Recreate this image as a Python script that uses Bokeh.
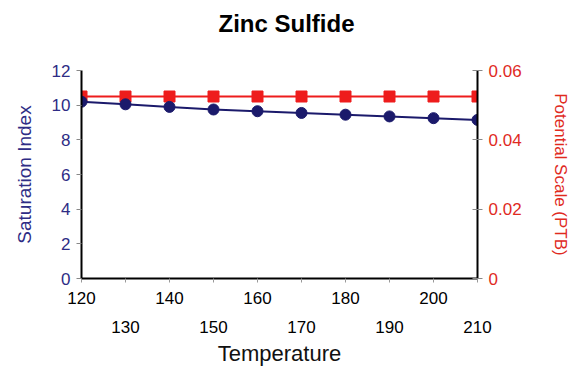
from bokeh.plotting import figure
from bokeh.models import Range1d, LinearAxis, FixedTicker, Title
from bokeh.embed import file_html
from bokeh.resources import INLINE

temperature = [120, 130, 140, 150, 160, 170, 180, 190, 200, 210]
saturation_index = [10.2, 10.05, 9.9, 9.75, 9.65, 9.55, 9.45, 9.35, 9.25, 9.15]
potential_scale = [0.0525] * 10
left_ticks = [0, 2, 4, 6, 8, 10, 12]
right_ticks = [0, 0.02, 0.04, 0.06]
right_labels = ["0", "0.02", "0.04", "0.06"]
upper_ticks = [120, 140, 160, 180, 200]
lower_ticks = [130, 150, 170, 190, 210]
title_text = "Zinc Sulfide"

FONT = "Liberation Sans"
NAVY = "#1b1a6b"
NAVY_TXT = "#2e2c85"
RED = "#ee1c1c"
RED_TXT = "#e02a1e"

p = figure(width=572, height=368, output_backend="svg", toolbar_location=None,
           x_range=Range1d(120, 210), y_range=Range1d(0, 12),
           min_border_left=81, min_border_right=93, min_border_top=70, min_border_bottom=90,
           x_axis_location=None, y_axis_location=None)
p.extra_y_ranges = {"ptb": Range1d(0, 0.06)}
p.grid.visible = False
p.outline_line_color = None
p.background_fill_color = "white"
p.border_fill_color = "white"

spacer = Title(text=" ", text_font=FONT, text_font_size="24px", standoff=0)
p.add_layout(spacer, "above")
t = Title(text=title_text, align="left", text_font=FONT, text_font_size="24px",
          text_font_style="bold", text_color="black", offset=137, standoff=10)
p.add_layout(t, "above")

# left axis
la = LinearAxis(ticker=FixedTicker(ticks=left_ticks), axis_label="Saturation Index")
la.axis_line_color = "black"
la.axis_line_width = 2
la.major_tick_in = 0
la.major_tick_out = 5
la.major_tick_line_color = "#888888"
la.minor_tick_line_color = None
la.major_label_standoff = 6
la.major_label_text_font = FONT
la.major_label_text_font_size = "17px"
la.major_label_text_color = NAVY_TXT
la.axis_label_text_font = FONT
la.axis_label_text_font_size = "19px"
la.axis_label_text_font_style = "normal"
la.axis_label_text_color = NAVY_TXT
la.axis_label_standoff = 14
p.add_layout(la, "left")

# right axis
ra = LinearAxis(y_range_name="ptb", ticker=FixedTicker(ticks=right_ticks),
                axis_label="Potential Scale (PTB)")
ra.major_label_overrides = {k: v for k, v in zip(right_ticks, right_labels)}
ra.axis_line_color = "black"
ra.axis_line_width = 2
ra.major_tick_in = 5
ra.major_tick_out = 5
ra.major_tick_line_color = "#888888"
ra.minor_tick_line_color = None
ra.major_label_standoff = 6
ra.major_label_text_font = FONT
ra.major_label_text_font_size = "17px"
ra.major_label_text_color = RED_TXT
ra.axis_label_text_font = FONT
ra.axis_label_text_font_size = "17px"
ra.axis_label_text_font_style = "normal"
ra.axis_label_text_color = RED_TXT
ra.axis_label_standoff = 26
p.add_layout(ra, "right")

# bottom axes (staggered labels)
ba1 = LinearAxis(ticker=FixedTicker(ticks=temperature))
ba1.major_label_overrides = {k: "" for k in lower_ticks}
ba1.axis_line_color = "black"
ba1.axis_line_width = 2
ba1.major_tick_in = 0
ba1.major_tick_out = 4
ba1.major_tick_line_color = "#999999"
ba1.minor_tick_line_color = None
ba1.major_label_standoff = 9
ba1.major_label_text_font = FONT
ba1.major_label_text_font_size = "17px"
ba1.major_label_text_color = "black"
p.add_layout(ba1, "below")

ba2 = LinearAxis(ticker=FixedTicker(ticks=lower_ticks), axis_label="Temperature")
ba2.axis_line_color = None
ba2.major_tick_line_color = None
ba2.minor_tick_line_color = None
ba2.major_label_standoff = 8
ba2.major_label_text_font = FONT
ba2.major_label_text_font_size = "17px"
ba2.major_label_text_color = "black"
ba2.axis_label_text_font = FONT
ba2.axis_label_text_font_size = "22px"
ba2.axis_label_text_font_style = "normal"
ba2.axis_label_text_color = "#111111"
ba2.axis_label_standoff = 5
p.add_layout(ba2, "below")

p.line(temperature, potential_scale, y_range_name="ptb", line_color=RED, line_width=2)
p.scatter(temperature, potential_scale, y_range_name="ptb", marker="square", size=11,
          fill_color=RED, line_color=RED)
p.line(temperature, saturation_index, line_color=NAVY, line_width=2)
p.scatter(temperature, saturation_index, marker="circle", size=11,
          fill_color=NAVY, line_color=NAVY)

open("out.html", "w").write(file_html(p, INLINE))
